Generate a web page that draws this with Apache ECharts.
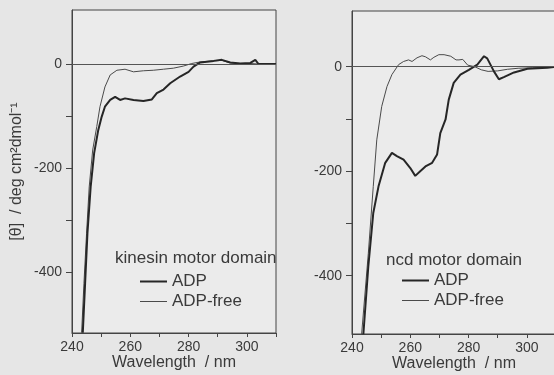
<!DOCTYPE html>
<html>
<head>
<meta charset="utf-8">
<script src="https://cdn.jsdelivr.net/npm/echarts@6/dist/echarts.min.js"></script>
<style>
html,body{margin:0;padding:0;background:#e6e6e6;}
#c{width:554px;height:375px;}
</style>
</head>
<body>
<div id="c"></div>
<script>
// ---- data (wavelength nm, ellipticity) ----
const kinesinADP = [
  [243.7,-516],[244.5,-421],[245.3,-325],[246.4,-236],[247.6,-171],[249.0,-127],[250.2,-101],
  [251.3,-82],[253.1,-69],[254.8,-63],[256.5,-69],[258.2,-66],[261.1,-69],[264.5,-71],
  [267.4,-68],[269.1,-56],[271.4,-49],[273.7,-37],[277.1,-24],[280.0,-15],[281.7,-5],
  [284.0,3],[288.6,6],[291.4,8],[294.3,3],[297.7,1],[301.2,2],[302.9,8],[304.0,0],[306.9,0],[310,0]
];
const kinesinFree = [
  [243.3,-516],[244.1,-421],[245.0,-325],[245.9,-236],[247.1,-165],[248.5,-120],[249.6,-82],
  [251.3,-44],[253.1,-21],[255.4,-12],[258.2,-10],[261.1,-15],[264.5,-13],[267.9,-12],
  [271.4,-10],[274.8,-8],[278.2,-4],[281.1,1],[284.0,4],[288.6,6],[291.4,7],[294.3,2],
  [297.7,1],[301.2,1],[304.0,0],[310,0]
];
const ncdADP = [
  [243.9,-512],[245.6,-382],[247.3,-280],[249.1,-229],[251.4,-184],[253.7,-165],[255.4,-171],
  [257.7,-178],[260.0,-194],[261.7,-209],[263.4,-200],[265.2,-191],[267.5,-184],[269.2,-168],
  [270.3,-127],[272.1,-101],[273.2,-63],[274.9,-31],[277.2,-15],[280.1,-6],[283.0,4],
  [285.3,20],[286.4,16],[288.7,-9],[290.4,-24],[292.1,-20],[295.6,-11],[300.2,-4],[307.0,-2],[310,0]
];
const ncdFree = [
  [243.3,-512],[245.6,-357],[247.3,-229],[248.5,-140],[250.2,-76],[252.0,-38],[253.7,-15],
  [256.0,4],[257.7,10],[259.4,13],[260.6,10],[262.3,17],[264.0,21],[265.2,19],[266.9,13],
  [268.1,18],[269.8,23],[271.6,23],[273.9,20],[275.7,13],[276.7,13],[278.0,14],[279.7,3],
  [282.1,0],[284.4,-6],[286.7,-9],[290.0,-8],[293.3,-5],[297.0,-3],[302.0,-2],[310,0]
];
const yTickValues = [-400,-300,-200,-100,0];
const yLabelValues = [-400,-200,0];
const xTickValues = [240,250,260,270,280,290,300,310];
const xLabelValues = [240,260,280,300];
const panelTitles = ['kinesin motor domain','ncd motor domain'];
const seriesNames = ['ADP','ADP-free'];
const xTitle = 'Wavelength  / nm';
const yTitle = '[\u03b8]  / deg cm\u00b2dmol\u207b\u00b9';

const FONT = '"Liberation Sans", Arial, sans-serif';
const TXT = '#3a3a3a';
const AX = '#444';
const C_THICK = '#262626';
const C_THIN = '#4a4a4a';

function xAxisCfg(gi){
  return {
    type:'value', gridIndex:gi, min:240, max:310,
    axisLine:{show:true,onZero:false,lineStyle:{color:AX,width:1}},
    axisTick:{show:true,customValues:xTickValues,length:4,lineStyle:{color:AX}},
    axisLabel:{customValues:xLabelValues,color:TXT,fontSize:14,fontFamily:FONT,margin:7},
    splitLine:{show:false},
    name:xTitle, nameLocation:'middle', nameGap:22, nameMoveOverlap:false,
    nameTextStyle:{color:TXT,fontSize:16,fontFamily:FONT}
  };
}
function yAxisCfg(gi,min,max,withName){
  const c = {
    type:'value', gridIndex:gi, min:min, max:max,
    axisLine:{show:true,onZero:false,lineStyle:{color:AX,width:1}},
    axisTick:{show:true,customValues:yTickValues,length:6,lineStyle:{color:AX}},
    axisLabel:{customValues:yLabelValues,color:TXT,fontSize:14,fontFamily:FONT,margin:10},
    splitLine:{show:false}
  };
  if(withName){
    c.name = yTitle; c.nameLocation='middle'; c.nameGap=47; c.nameMoveOverlap=false;
    c.nameTextStyle={color:TXT,fontSize:16,fontFamily:FONT};
  }
  return c;
}
function lineSeries(name,data,xi,thick,withZero){
  const s = {
    name:name, type:'line', xAxisIndex:xi, yAxisIndex:xi, data:data,
    symbol:'none', smooth:false, clip:true, silent:true, animation:false,
    lineStyle:{color: thick ? C_THICK : C_THIN, width: thick ? 2 : 1},
    itemStyle:{color: thick ? C_THICK : C_THIN}
  };
  if(withZero){
    s.markLine = {silent:true, symbol:'none', label:{show:false},
      lineStyle:{color:'#555',width:1,type:'solid'}, data:[{yAxis:0}], animation:false};
  }
  return s;
}
function legendCfg(left,top){
  return {
    data:[
      {name:seriesNames[0], icon:'path://M0,0 H27 V2 H0 Z', itemStyle:{color:C_THICK}},
      {name:seriesNames[1], icon:'path://M0,0 H27 V1 H0 Z', itemStyle:{color:C_THIN}}
    ],
    orient:'vertical', left:left, top:top, padding:0, itemWidth:27, itemHeight:14, itemGap:3,
    textStyle:{color:TXT,fontSize:17,fontFamily:FONT}, selectedMode:false
  };
}

const chart = echarts.init(document.getElementById('c'), null, {renderer:'canvas'});
chart.setOption({
  backgroundColor:'#e6e6e6',
  animation:false,
  grid:[
    {left:72, top:10, width:204, height:323, outerBoundsMode:'none', containLabel:false,
     show:true, backgroundColor:'#ebebeb', borderColor:AX, borderWidth:1},
    {left:352, top:11, width:204, height:323, outerBoundsMode:'none', containLabel:false,
     show:true, backgroundColor:'#ebebeb', borderColor:AX, borderWidth:1}
  ],
  xAxis:[xAxisCfg(0), xAxisCfg(1)],
  yAxis:[yAxisCfg(0,-516.5,103.7,true), yAxisCfg(1,-511.6,106.6,false)],
  title:[
    {text:panelTitles[0], left:115, top:250, padding:0,
     textStyle:{color:TXT,fontSize:17,fontWeight:'normal',fontFamily:FONT}},
    {text:panelTitles[1], left:386, top:252, padding:0,
     textStyle:{color:TXT,fontSize:17,fontWeight:'normal',fontFamily:FONT}}
  ],
  legend:[legendCfg(140,273), legendCfg(402,272)],
  series:[
    lineSeries(seriesNames[1], kinesinFree, 0, false, true),
    lineSeries(seriesNames[0], kinesinADP, 0, true, false),
    lineSeries(seriesNames[1], ncdFree, 1, false, true),
    lineSeries(seriesNames[0], ncdADP, 1, true, false)
  ]
});
</script>
</body>
</html>
